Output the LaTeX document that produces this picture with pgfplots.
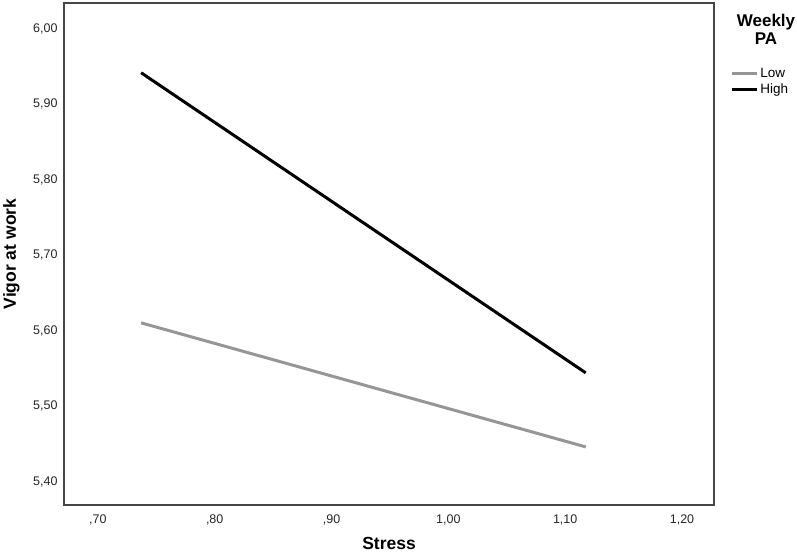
\documentclass[border=0pt]{standalone}
\usepackage{fontspec}
\setmainfont{Liberation Sans}
\usepackage{pgfplots}
\pgfplotsset{compat=1.18}
\definecolor{lowgray}{RGB}{150,150,150}
\definecolor{boxgray}{RGB}{70,70,70}
\begin{document}
\begin{tikzpicture}[x=1pt,y=1pt]
\useasboundingbox (0,0) rectangle (797,553);
\begin{axis}[
    at={(64pt,48pt)}, anchor=south west,
    width=650pt, height=502pt, scale only axis,
    xmin=0.671, xmax=1.2274,
    ymin=5.3695, ymax=6.034,
    xtick={0.7,0.8,0.9,1.0,1.1,1.2},
    xticklabels={{,70},{,80},{,90},{1,00},{1,10},{1,20}},
    ytick={5.4,5.5,5.6,5.7,5.8,5.9,6.0},
    yticklabels={{5,40},{5,50},{5,60},{5,70},{5,80},{5,90},{6,00}},
    major tick length=0pt,
    tick label style={font=\fontsize{12.5}{14}\selectfont, color=black!85},
    xticklabel style={yshift=-6pt},
    yticklabel style={xshift=-3pt},
    axis line style={draw=boxgray, line width=1.1pt},
    xlabel={\textbf{Stress}},
    ylabel={\textbf{Vigor at work}},
    label style={font=\fontsize{17.5}{20}\selectfont},
    xlabel style={at={(axis description cs:0.5,-0.0757)}, anchor=center},
    ylabel style={at={(axis description cs:-0.081,0.5)}, anchor=center},
    legend style={at={(axis description cs:1.025,0.875)}, anchor=north west,
        draw=none, fill=none, inner sep=0pt,
        font=\fontsize{13.5}{15}\selectfont,
        row sep=1pt,
        nodes={anchor=west, inner sep=2pt}},
    legend cell align=left,
    legend image code/.code={\draw[#1] (0pt,0pt) -- (25pt,0pt);},
]
% Low weekly PA
\addplot[color=lowgray, line width=3pt] coordinates {
    (0.737,5.6106) (1.1176,5.4464)
};
% High weekly PA
\addplot[color=black, line width=3pt] coordinates {
    (0.737,5.9417) (1.1176,5.5444)
};
\legend{Low, High}
\end{axis}
\node[font=\bfseries\fontsize{17}{18}\selectfont, align=center] at (766,524) {Weekly\\PA};
\end{tikzpicture}
\end{document}
